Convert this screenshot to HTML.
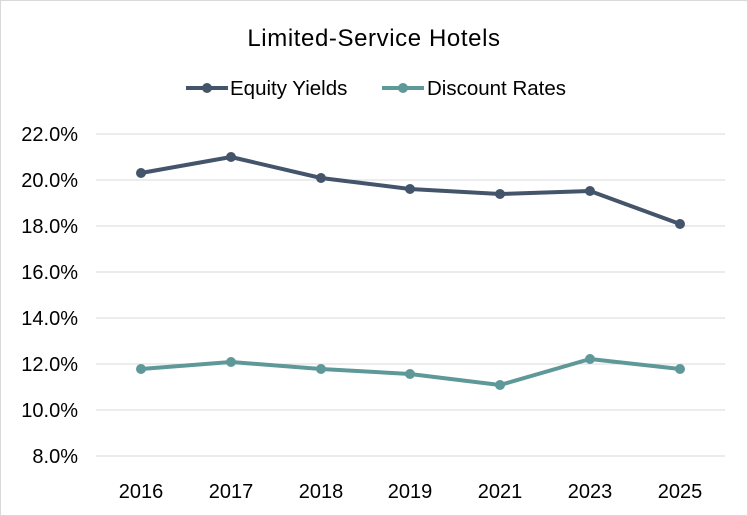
<!DOCTYPE html>
<html><head><meta charset="utf-8"><style>
html,body{margin:0;padding:0;background:#fff;}
svg{display:block;font-family:"Liberation Sans",sans-serif;}
</style></head><body>
<svg width="748" height="516" viewBox="0 0 748 516">
<rect x="0.5" y="0.5" width="747" height="515" fill="#fff" stroke="#d9d9d9"/>
<text x="374" y="46" text-anchor="middle" font-size="24" letter-spacing="0.6" fill="#000">Limited-Service Hotels</text>
<line x1="186" y1="88" x2="228" y2="88" stroke="#44546A" stroke-width="4"/>
<circle cx="207" cy="88" r="5" fill="#44546A"/>
<text x="230" y="95" font-size="20.5" fill="#000">Equity Yields</text>
<line x1="382" y1="88" x2="424" y2="88" stroke="#5F9898" stroke-width="4"/>
<circle cx="403" cy="88" r="5" fill="#5F9898"/>
<text x="427" y="95" font-size="20.5" fill="#000">Discount Rates</text>
<g stroke="#d9d9d9" stroke-width="1">
<line x1="96" y1="134" x2="725" y2="134"/>
<line x1="96" y1="180" x2="725" y2="180"/>
<line x1="96" y1="226" x2="725" y2="226"/>
<line x1="96" y1="272" x2="725" y2="272"/>
<line x1="96" y1="318" x2="725" y2="318"/>
<line x1="96" y1="364" x2="725" y2="364"/>
<line x1="96" y1="410" x2="725" y2="410"/>
<line x1="96" y1="456" x2="725" y2="456"/>
</g>
<g font-size="20" fill="#000" text-anchor="end">
<text x="78" y="141">22.0%</text>
<text x="78" y="187">20.0%</text>
<text x="78" y="233">18.0%</text>
<text x="78" y="279">16.0%</text>
<text x="78" y="325">14.0%</text>
<text x="78" y="371">12.0%</text>
<text x="78" y="417">10.0%</text>
<text x="78" y="463">8.0%</text>
</g>
<g font-size="20" fill="#000" text-anchor="middle">
<text x="141" y="498">2016</text>
<text x="231" y="498">2017</text>
<text x="321" y="498">2018</text>
<text x="410" y="498">2019</text>
<text x="500" y="498">2021</text>
<text x="590" y="498">2023</text>
<text x="680" y="498">2025</text>
</g>
<polyline fill="none" stroke="#44546A" stroke-width="4" stroke-linejoin="round" points="141,173 231,157 321,178 410,189 500,194 590,191 680,224"/>
<g fill="#44546A">
<circle cx="141" cy="173" r="5"/><circle cx="231" cy="157" r="5"/><circle cx="321" cy="178" r="5"/><circle cx="410" cy="189" r="5"/><circle cx="500" cy="194" r="5"/><circle cx="590" cy="191" r="5"/><circle cx="680" cy="224" r="5"/>
</g>
<polyline fill="none" stroke="#5F9898" stroke-width="4" stroke-linejoin="round" points="141,369 231,362 321,369 410,374 500,385 590,359 680,369"/>
<g fill="#5F9898">
<circle cx="141" cy="369" r="5"/><circle cx="231" cy="362" r="5"/><circle cx="321" cy="369" r="5"/><circle cx="410" cy="374" r="5"/><circle cx="500" cy="385" r="5"/><circle cx="590" cy="359" r="5"/><circle cx="680" cy="369" r="5"/>
</g>
</svg>
</body></html>
